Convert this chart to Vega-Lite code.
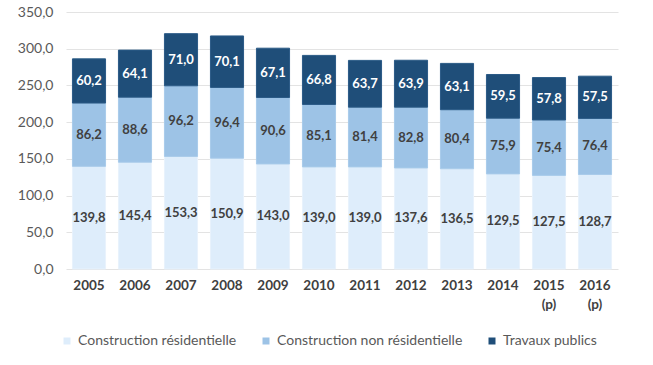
{
  "$schema": "https://vega.github.io/schema/vega-lite/v6.json",
  "width": 552,
  "height": 257,
  "autosize": {"type": "none"},
  "padding": {"left": 66, "top": 12, "right": 35, "bottom": 96},
  "background": "white",
  "config": {"view": {"stroke": null}, "font": "Lato"},
  "data": {"values": [
    {"year": "2005", "Construction résidentielle": 139.8, "Construction non résidentielle": 86.2, "Travaux publics": 60.2},
    {"year": "2006", "Construction résidentielle": 145.4, "Construction non résidentielle": 88.6, "Travaux publics": 64.1},
    {"year": "2007", "Construction résidentielle": 153.3, "Construction non résidentielle": 96.2, "Travaux publics": 71.0},
    {"year": "2008", "Construction résidentielle": 150.9, "Construction non résidentielle": 96.4, "Travaux publics": 70.1},
    {"year": "2009", "Construction résidentielle": 143.0, "Construction non résidentielle": 90.6, "Travaux publics": 67.1},
    {"year": "2010", "Construction résidentielle": 139.0, "Construction non résidentielle": 85.1, "Travaux publics": 66.8},
    {"year": "2011", "Construction résidentielle": 139.0, "Construction non résidentielle": 81.4, "Travaux publics": 63.7},
    {"year": "2012", "Construction résidentielle": 137.6, "Construction non résidentielle": 82.8, "Travaux publics": 63.9},
    {"year": "2013", "Construction résidentielle": 136.5, "Construction non résidentielle": 80.4, "Travaux publics": 63.1},
    {"year": "2014", "Construction résidentielle": 129.5, "Construction non résidentielle": 75.9, "Travaux publics": 59.5},
    {"year": "2015", "Construction résidentielle": 127.5, "Construction non résidentielle": 75.4, "Travaux publics": 57.8},
    {"year": "2016", "Construction résidentielle": 128.7, "Construction non résidentielle": 76.4, "Travaux publics": 57.5}
  ]},
  "transform": [
    {"fold": ["Construction résidentielle", "Construction non résidentielle", "Travaux publics"], "as": ["type", "value"]},
    {"calculate": "indexof(['Construction résidentielle', 'Construction non résidentielle', 'Travaux publics'], datum.type)", "as": "ord"},
    {"stack": "value", "groupby": ["year"], "sort": [{"field": "ord", "order": "ascending"}], "as": ["y0", "y1"]},
    {"calculate": "(datum.y0 + datum.y1) / 2", "as": "ymid"},
    {"calculate": "replace(format(datum.value, '.1f'), '.', ',')", "as": "lbl"}
  ],
  "encoding": {
    "x": {
      "field": "year", "type": "nominal", "title": null,
      "scale": {"paddingInner": 0.28, "paddingOuter": 0.14},
      "axis": {
        "labelAngle": 0, "domain": false, "ticks": false, "labelPadding": 9,
        "labelFont": "Lato", "labelFontSize": 13.5, "labelFontWeight": "bold", "labelColor": "#404040",
        "labelExpr": "datum.value == '2015' || datum.value == '2016' ? [datum.value, '(p)'] : datum.value",
        "labelLineHeight": 19
      }
    }
  },
  "layer": [
    {
      "mark": {"type": "bar", "strokeWidth": 1},
      "encoding": {
        "y": {
          "field": "y1", "type": "quantitative", "title": null,
          "scale": {"domain": [0, 350], "nice": false},
          "axis": {
            "values": [0, 50, 100, 150, 200, 250, 300, 350],
            "labelOverlap": false,
            "domain": false, "ticks": false, "labelPadding": 13,
            "labelFont": "Lato", "labelFontSize": 14, "labelColor": "#595959",
            "labelExpr": "replace(format(datum.value, '.1f'), '.', ',')",
            "gridColor": "#e3e3e3", "gridWidth": 1
          }
        },
        "y2": {"field": "y0"},
        "color": {
          "field": "type", "type": "nominal", "title": null,
          "scale": {
            "domain": ["Construction résidentielle", "Construction non résidentielle", "Travaux publics"],
            "range": ["#deedfb", "#9dc3e6", "#1f4e79"]
          },
          "legend": {
            "orient": "none", "direction": "horizontal", "legendX": -6, "legendY": 322, "padding": 0,
            "symbolType": "square", "symbolSize": 49, "symbolStrokeWidth": 0,
            "labelFont": "Lato", "labelFontSize": 14, "labelColor": "#595959", "labelLimit": 300,
            "columnPadding": 22, "labelOffset": 4
          }
        },
        "stroke": {
          "field": "type", "type": "nominal", "legend": null,
          "scale": {
            "domain": ["Construction résidentielle", "Construction non résidentielle", "Travaux publics"],
            "range": ["#e8f2fc", "#a8cbea", "#2a5a86"]
          }
        }
      }
    },
    {
      "mark": {"type": "text", "font": "Lato", "fontSize": 13, "fontWeight": "bold", "baseline": "middle", "align": "center"},
      "encoding": {
        "y": {
          "field": "ymid", "type": "quantitative", "title": null,
          "scale": {"domain": [0, 350], "nice": false},
          "axis": {
            "values": [0, 50, 100, 150, 200, 250, 300, 350],
            "labelOverlap": false,
            "domain": false, "ticks": false, "labelPadding": 13,
            "labelFont": "Lato", "labelFontSize": 14, "labelColor": "#595959",
            "labelExpr": "replace(format(datum.value, '.1f'), '.', ',')",
            "gridColor": "#e3e3e3", "gridWidth": 1
          }
        },
        "text": {"field": "lbl"},
        "color": {
          "condition": {"test": "datum.type == 'Travaux publics'", "value": "white"},
          "value": "#404040"
        }
      }
    }
  ]
}
